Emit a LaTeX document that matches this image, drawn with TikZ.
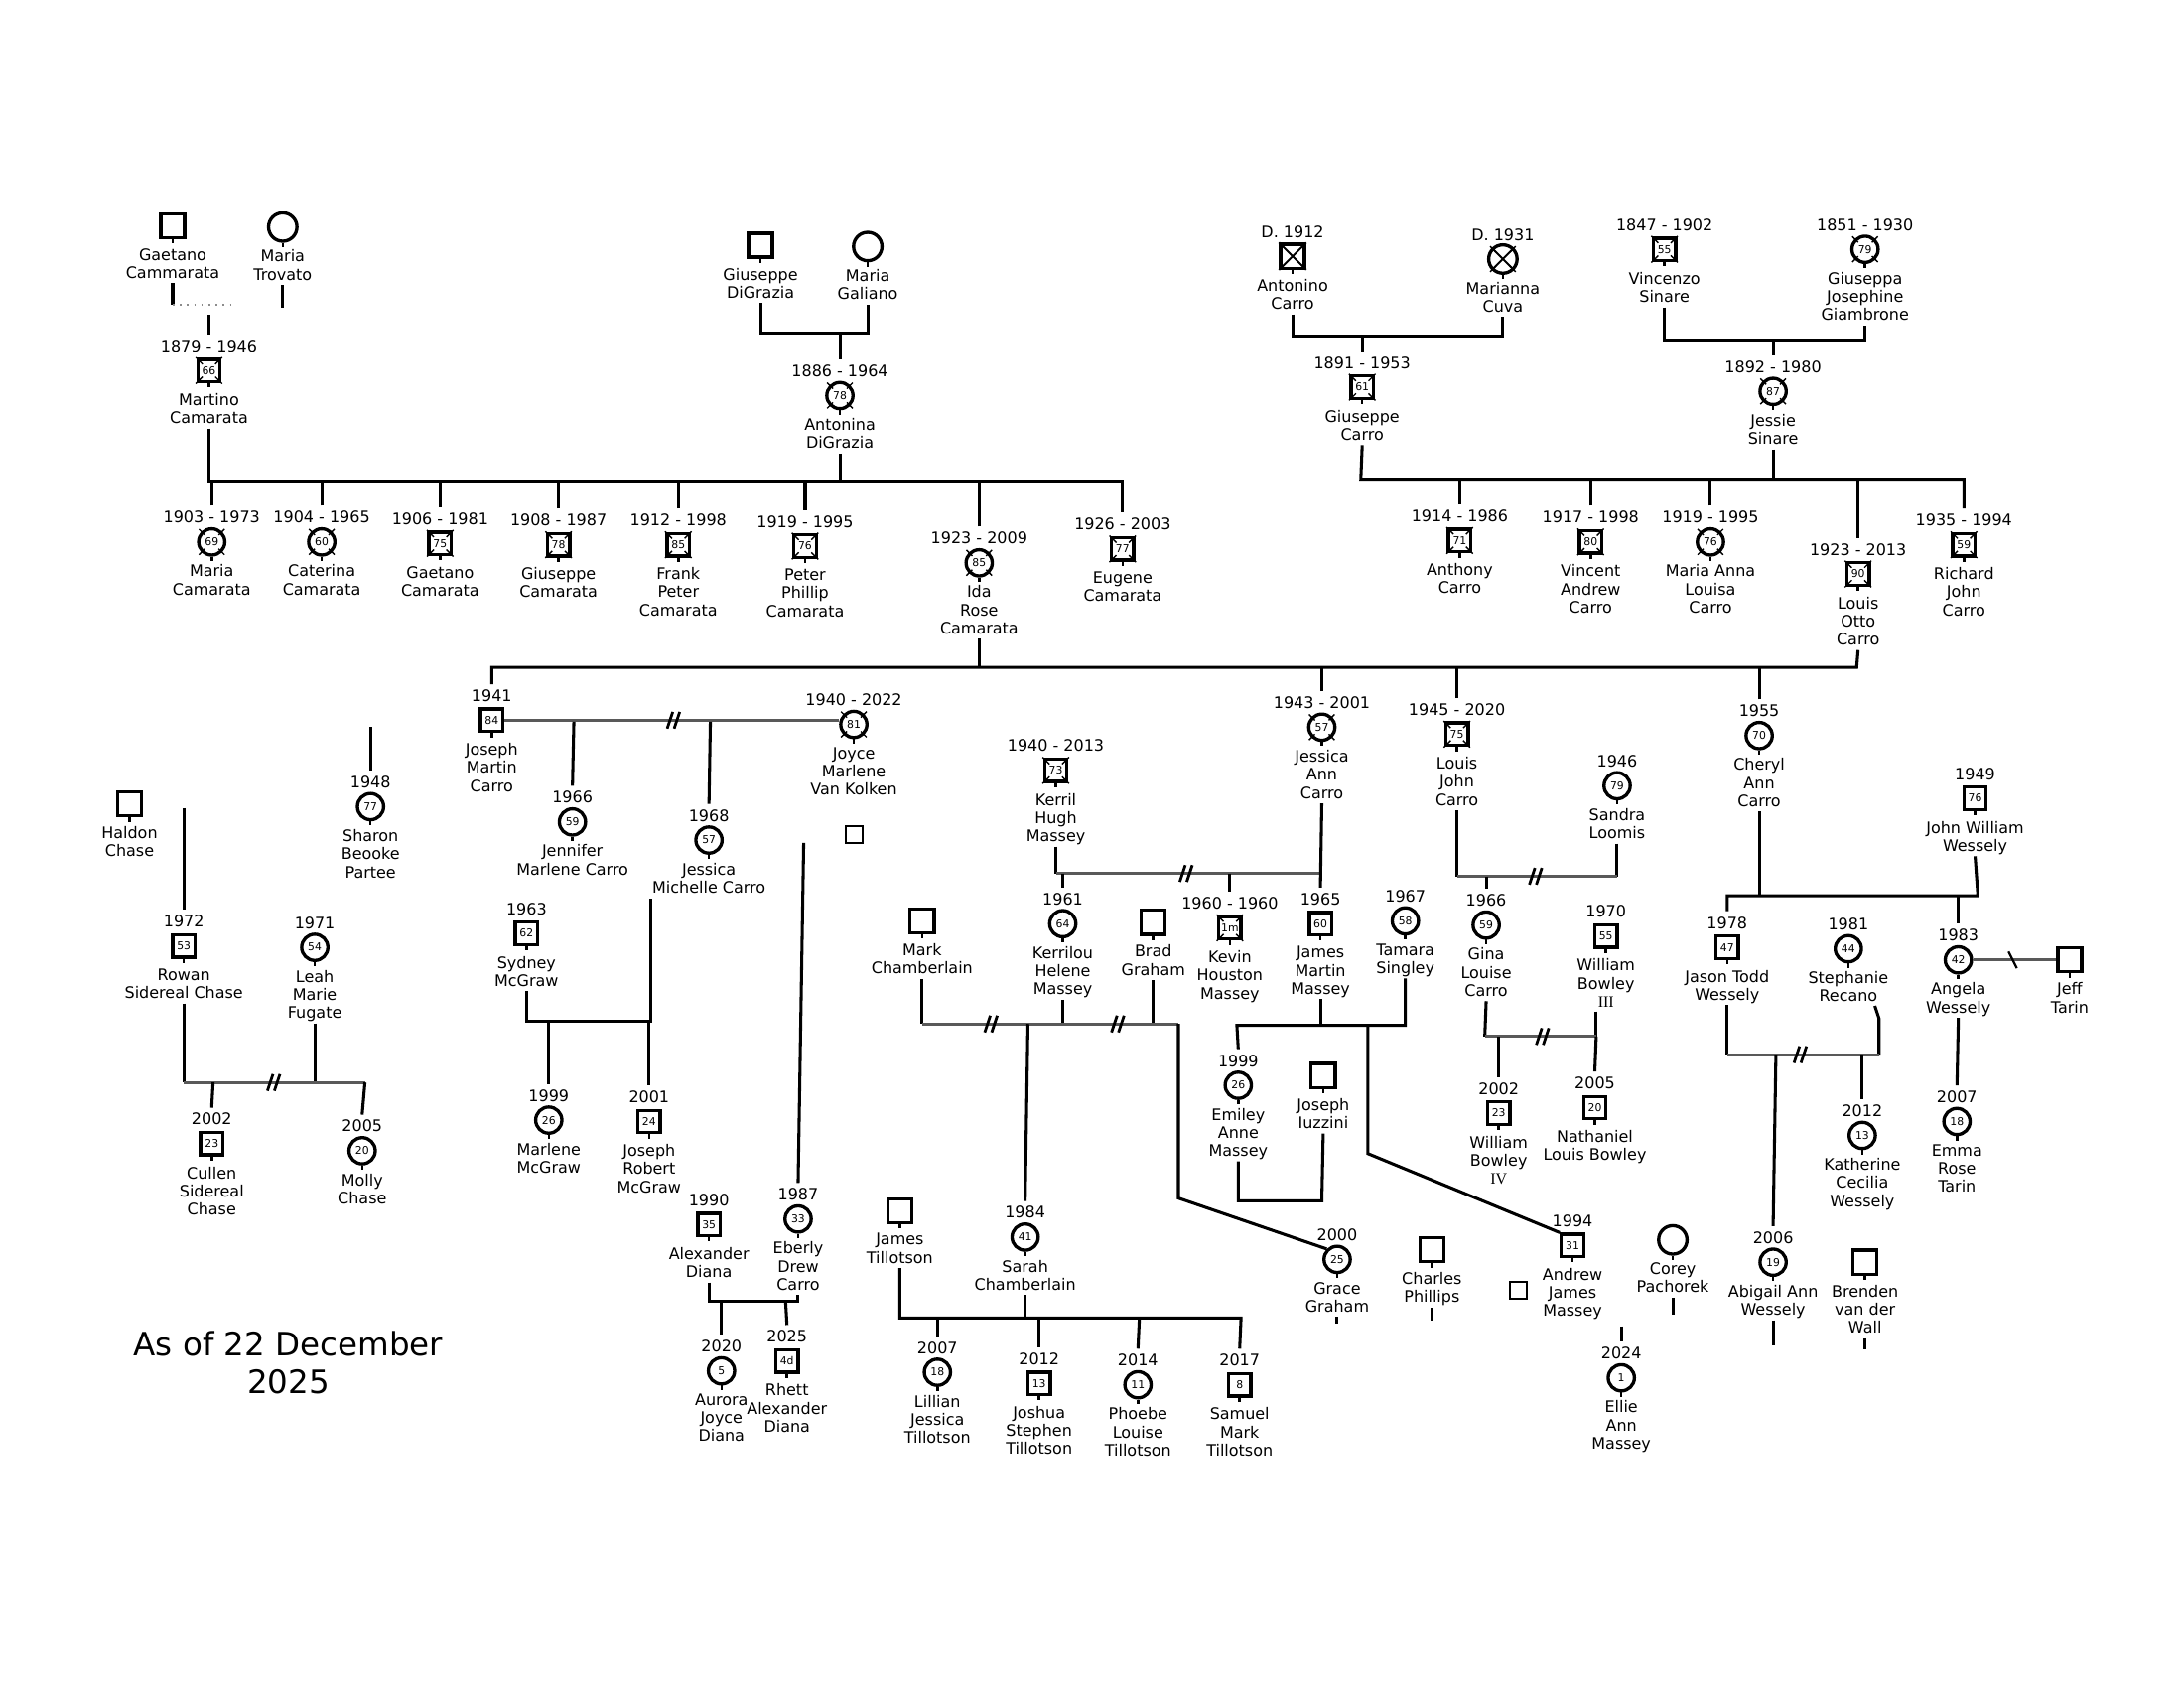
\documentclass[tikz,border=0pt]{standalone}
\usepackage{fontspec}
\newfontfamily\vf{DejaVu Sans}
\newfontfamily\serf{Liberation Serif}
\newcommand\nmf{\vf\fontsize{5.75bp}{6.57bp}\selectfont}
\newcommand\agf{\vf\fontsize{3.9bp}{4.2bp}\selectfont}
\newcommand\bigf{\vf\fontsize{11.7bp}{13.7bp}\selectfont}
\tikzset{
  sq/.style={draw,line width=1.2bp,rectangle,minimum size=8.1bp,inner sep=0,font=\agf},
  sqb/.style={sq,minimum size=8.7bp},
  ci/.style={draw,line width=1.2bp,circle,minimum size=9.5bp,inner sep=0,font=\agf},
  cib/.style={ci,minimum size=10.3bp},
  sqs/.style={draw,line width=0.7bp,rectangle,minimum size=6.1bp,inner sep=0},
  yr/.style={anchor=base,inner sep=0,outer ysep=2bp,font=\nmf},
  nm/.style={anchor=north,align=center,inner sep=0,font=\nmf,
    execute at begin node={\rule{0pt}{4.55bp}},
    execute at end node={\rule[-1.6bp]{0pt}{1.6bp}}},
  ln/.style={line width=1.1bp},
  dv/.style={line width=1bp,black!65},
  tk/.style={line width=0.5bp},
  stub/.style={line width=0.9bp},
}
\newcommand\pson[7]{%
  \node[#4] (#1) at (#2,#3) {#5};
  \node[yr] (#1Y) at (#2,#3-13.5) {#6};
  \node[nm] (#1L) at (#2,#3+16) {#7};
  \draw[stub] (#1.south) -- ++(0,3);
}
\newcommand\decsq[1]{\foreach \sx/\sy in {1/1,1/-1,-1/1,-1/-1}{\draw[tk] ([shift={(\sx*4.5,\sy*4.5)}]#1.center) -- ([shift={(\sx*9.5,\sy*9.5)}]#1.center);}}
\newcommand\decci[1]{\foreach \a in {45,135,225,315}{\draw[tk] ([shift={(\a:7)}]#1.center) -- ([shift={(\a:13)}]#1.center);}}
\newcommand\dvm[2]{\draw[line width=1bp] (#1-5,#2+6) -- (#1-1,#2-6) (#1,#2+6) -- (#1+4,#2-6);}
\begin{document}
\begin{tikzpicture}[x=0.505bp,y=-0.505bp]
\useasboundingbox (0,0) rectangle (1568,1212);
\fill[white] (0,0) rectangle (1568,1212);

% ---------- generation 0
\pson{gaetano}{124}{162}{sqb}{}{}{Gaetano\\Cammarata}
\pson{mtrovato}{203}{163}{cib}{}{}{Maria\\Trovato}
\pson{martino}{150}{266}{sq}{66}{1879 - 1946}{Martino\\Camarata}\decsq{martino}
\pson{gdigrazia}{546}{176}{sqb}{}{}{Giuseppe\\DiGrazia}
\pson{mgaliano}{623}{177}{cib}{}{}{Maria\\Galiano}
\pson{antonina}{603}{284}{ci}{78}{1886 - 1964}{Antonina\\DiGrazia}\decci{antonina}
\pson{antonino}{928}{184}{sqb}{}{D. 1912}{Antonino\\Carro}
\draw[line width=0.7bp] (antonino.north west) -- (antonino.south east) (antonino.north east) -- (antonino.south west);
\pson{mcuva}{1079}{186}{cib}{}{D. 1931}{Marianna\\Cuva}\decci{mcuva}
\draw[line width=0.7bp] (mcuva.45) -- (mcuva.225) (mcuva.135) -- (mcuva.315);
\pson{gcarro}{978}{278}{sq}{61}{1891 - 1953}{Giuseppe\\Carro}\decsq{gcarro}
\pson{vincenzo}{1195}{179}{sq}{55}{1847 - 1902}{Vincenzo\\Sinare}\decsq{vincenzo}
\pson{giuseppa}{1339}{179}{ci}{79}{1851 - 1930}{Giuseppa\\Josephine\\Giambrone}\decci{giuseppa}
\pson{jessie}{1273}{281}{ci}{87}{1892 - 1980}{Jessie\\Sinare}\decci{jessie}

% ---------- generation 1
\pson{mariaC}{152}{389}{ci}{69}{1903 - 1973}{Maria\\Camarata}\decci{mariaC}
\pson{caterina}{231}{389}{ci}{60}{1904 - 1965}{Caterina\\Camarata}\decci{caterina}
\pson{gaetanoC}{316}{390}{sq}{75}{1906 - 1981}{Gaetano\\Camarata}\decsq{gaetanoC}
\pson{giuseppeC}{401}{391}{sq}{78}{1908 - 1987}{Giuseppe\\Camarata}\decsq{giuseppeC}
\pson{frank}{487}{391}{sq}{85}{1912 - 1998}{Frank\\Peter\\Camarata}\decsq{frank}
\pson{peter}{578}{392}{sq}{76}{1919 - 1995}{Peter\\Phillip\\Camarata}\decsq{peter}
\pson{ida}{703}{404}{ci}{85}{1923 - 2009}{Ida\\Rose\\Camarata}\decci{ida}
\pson{eugene}{806}{394}{sq}{77}{1926 - 2003}{Eugene\\Camarata}\decsq{eugene}
\pson{anthony}{1048}{388}{sq}{71}{1914 - 1986}{Anthony\\Carro}\decsq{anthony}
\pson{vincent}{1142}{389}{sq}{80}{1917 - 1998}{Vincent\\Andrew\\Carro}\decsq{vincent}
\pson{mariaA}{1228}{389}{ci}{76}{1919 - 1995}{Maria Anna\\Louisa\\Carro}\decci{mariaA}
\pson{louisO}{1334}{412}{sq}{90}{1923 - 2013}{Louis\\Otto\\Carro}\decsq{louisO}
\pson{richard}{1410}{391}{sq}{59}{1935 - 1994}{Richard\\John\\Carro}\decsq{richard}

% ---------- generation 2
\pson{joseph}{353}{517}{sq}{84}{1941}{Joseph\\Martin\\Carro}
\pson{joyce}{613}{520}{ci}{81}{1940 - 2022}{Joyce\\Marlene\\Van Kolken}\decci{joyce}
\pson{jessicaA}{949}{522}{ci}{57}{1943 - 2001}{Jessica\\Ann\\Carro}\decci{jessicaA}
\pson{louisJ}{1046}{527}{sq}{75}{1945 - 2020}{Louis\\John\\Carro}\decsq{louisJ}
\pson{cheryl}{1263}{528}{ci}{70}{1955}{Cheryl\\Ann\\Carro}
\pson{kerril}{758}{553}{sq}{73}{1940 - 2013}{Kerril\\Hugh\\Massey}\decsq{kerril}
\pson{sandra}{1161}{564}{ci}{79}{1946}{Sandra\\Loomis}
\pson{johnW}{1418}{573}{sq}{76}{1949}{John William\\Wessely}
\pson{jennifer}{411}{590}{ci}{59}{1966}{Jennifer\\Marlene Carro}
\pson{jessicaM}{509}{603}{ci}{57}{1968}{Jessica\\Michelle Carro}
\pson{sharon}{266}{579}{ci}{77}{1948}{Sharon\\Beooke\\Partee}
\pson{haldon}{93}{577}{sqb}{}{}{Haldon\\Chase}
\pson{sydney}{378}{670}{sq}{62}{1963}{Sydney\\McGraw}
\pson{rowan}{132}{679}{sq}{53}{1972}{Rowan\\Sidereal Chase}
\pson{leah}{226}{680}{ci}{54}{1971}{Leah\\Marie\\Fugate}
\pson{mark}{662}{661}{sqb}{}{}{Mark\\Chamberlain}
\pson{kerrilou}{763}{663}{ci}{64}{1961}{Kerrilou\\Helene\\Massey}
\pson{brad}{828}{662}{sqb}{}{}{Brad\\Graham}
\pson{kevin}{883}{666}{sq}{1m}{1960 - 1960}{Kevin\\Houston\\Massey}\decsq{kevin}
\pson{jamesM}{948}{663}{sq}{60}{1965}{James\\Martin\\Massey}
\pson{tamara}{1009}{661}{ci}{58}{1967}{Tamara\\Singley}
\pson{gina}{1067}{664}{ci}{59}{1966}{Gina\\Louise\\Carro}
\pson{williamB}{1153}{672}{sq}{55}{1970}{William\\Bowley\\{\serf III}}
\pson{jason}{1240}{680}{sq}{47}{1978}{Jason Todd\\Wessely}
\pson{stephanie}{1327}{681}{ci}{44}{1981}{Stephanie\\Recano}
\pson{angela}{1406}{689}{ci}{42}{1983}{Angela\\Wessely}
\pson{jeff}{1486}{689}{sqb}{}{}{Jeff\\Tarin}
\node[sqs] (sqa) at (613,599) {};

% ---------- generation 3+
\pson{cullen}{152}{821}{sq}{23}{2002}{Cullen\\Sidereal\\Chase}
\pson{molly}{260}{826}{ci}{20}{2005}{Molly\\Chase}
\pson{marlene}{394}{804}{ci}{26}{1999}{Marlene\\McGraw}
\pson{josephR}{466}{805}{sq}{24}{2001}{Joseph\\Robert\\McGraw}
\pson{alex}{509}{879}{sq}{35}{1990}{Alexander\\Diana}
\pson{eberly}{573}{875}{ci}{33}{1987}{Eberly\\Drew\\Carro}
\pson{aurora}{518}{984}{ci}{5}{2020}{Aurora\\Joyce\\Diana}
\pson{rhett}{565}{977}{sq}{4d}{2025}{Rhett\\Alexander\\Diana}
\pson{emiley}{889}{779}{ci}{26}{1999}{Emiley\\Anne\\Massey}
\pson{josephI}{950}{772}{sqb}{}{}{Joseph\\Iuzzini}
\pson{sarah}{736}{888}{ci}{41}{1984}{Sarah\\Chamberlain}
\pson{grace}{960}{904}{ci}{25}{2000}{Grace\\Graham}
\pson{jamesT}{646}{869}{sqb}{}{}{James\\Tillotson}
\pson{lillian}{673}{985}{ci}{18}{2007}{Lillian\\Jessica\\Tillotson}
\pson{joshua}{746}{993}{sq}{13}{2012}{Joshua\\Stephen\\Tillotson}
\pson{phoebe}{817}{994}{ci}{11}{2014}{Phoebe\\Louise\\Tillotson}
\pson{samuel}{890}{994}{sq}{8}{2017}{Samuel\\Mark\\Tillotson}
\pson{charles}{1028}{897}{sqb}{}{}{Charles\\Phillips}
\node[sqs] (sqb2) at (1090,926) {};
\pson{andrew}{1129}{894}{sq}{31}{1994}{Andrew\\James\\Massey}
\pson{ellie}{1164}{989}{ci}{1}{2024}{Ellie\\Ann\\Massey}
\pson{corey}{1201}{890}{cib}{}{}{Corey\\Pachorek}
\pson{williamIV}{1076}{799}{sq}{23}{2002}{William\\Bowley\\{\serf IV}}
\pson{nathaniel}{1145}{795}{sq}{20}{2005}{Nathaniel\\Louis Bowley}
\pson{katherine}{1337}{815}{ci}{13}{2012}{Katherine\\Cecilia\\Wessely}
\pson{abigail}{1273}{906}{ci}{19}{2006}{Abigail Ann\\Wessely}
\pson{brenden}{1339}{906}{sqb}{}{}{Brenden\\van der\\Wall}
\pson{emma}{1405}{805}{ci}{18}{2007}{Emma\\Rose\\Tarin}

\node[font=\bigf,align=center] (asof) at (207,978) {As of 22 December\\2025};

% ---------- connectors
% Cammarata / Trovato
\draw[ln] (gaetanoL.south) -- (124,219);
\draw[ln] (mtrovatoL.south) -- (203,221);
\draw[black!45,dotted,line width=0.6bp] (124,219) -- (166,219);
\draw[ln] (150,226) -- (martinoY.north);
% DiGrazia
\draw[ln] (gdigraziaL.south) -- (546,239) -- (623,239) -- (mgalianoL.south);
\draw[ln] (603,239) -- (antoninaY.north);
% Camarata sibship
\coordinate (b1) at (0,345);
\draw[ln] (martinoL.south) -- (150,345) -- (806,345) -- (eugeneY.north);
\draw[ln] (antoninaL.south) -- (603,345);
\foreach \c in {mariaC,caterina,gaetanoC,giuseppeC,frank,peter,ida}
  \draw[ln] (\c Y.north) -- (\c Y.north |- b1);
% Carro parents
\draw[ln] (antoninoL.south) -- (928,241) -- (1079,241) -- (mcuvaL.south);
\draw[ln] (978,241) -- (gcarroY.north);
\draw[ln] (vincenzoL.south) -- (1195,244) -- (1339,244) -- (giuseppaL.south);
\draw[ln] (1273,244) -- (jessieY.north);
\coordinate (b2) at (0,344);
\draw[ln] (gcarroL.south) -- (977,344) -- (1410,344) -- (richardY.north);
\draw[ln] (jessieL.south) -- (1273,344);
\foreach \c in {anthony,vincent,mariaA,louisO}
  \draw[ln] (\c Y.north) -- (\c Y.north |- b2);
% Ida + Louis Otto
\coordinate (b3) at (0,479);
\draw[ln] (idaL.south) -- (703,479);
\draw[ln] (louisOL.south) -- (1333,479) -- (353,479) -- (josephY.north);
\foreach \c in {jessicaA,louisJ,cheryl}
  \draw[ln] (\c Y.north) -- (\c Y.north |- b3);
% Joseph + Joyce
\draw[dv] (joseph.east) -- (joseph.east -| joyce.west);
\dvm{484}{517}
\draw[ln] (412,518) -- (jenniferY.north);
\draw[ln] (510,518) -- (jessicaMY.north);
\draw[ln] (577,605) -- (eberlyY.north);
% Sydney + Jessica Michelle
\draw[ln] (sydneyL.south) -- (378,733) -- (467,733) -- (467,645);
\draw[ln] (394,733) -- (marleneY.north);
\draw[ln] (466,733) -- (josephRY.north);
% Chase
\draw[ln] (132,580) -- (rowanY.north);
\draw[ln] (266,522) -- (sharonY.north);
\draw[ln] (rowanL.south) -- (132,777);
\draw[ln] (leahL.south) -- (226,777);
\draw[dv] (132,777) -- (262,777);
\dvm{197}{777}
\draw[ln] (262,777) -- (mollyY.north);
\draw[ln] (153,777) -- (cullenY.north);
% Alexander + Eberly
\draw[ln] (alexL.south) -- (509,934) -- (573,934) -- (eberlyL.south);
\draw[ln] (518,934) -- (auroraY.north);
\draw[ln] (564,934) -- (rhettY.north);
% Kerril + Jessica Ann
\draw[ln] (kerrilL.south) -- (758,627);
\draw[dv] (758,627) -- (948,627);
\dvm{852}{627}
\draw[ln] (jessicaAL.south) -- (jamesMY.north);
\draw[ln] (763,627) -- (kerrilouY.north);
\draw[ln] (883,627) -- (kevinY.north);
% Mark / Kerrilou / Brad
\draw[ln] (markL.south) -- (662,735);
\draw[ln] (kerrilouL.south) -- (763,735);
\draw[ln] (bradL.south) -- (828,735);
\draw[dv] (662,735) -- (846,735);
\dvm{712}{735}
\dvm{803}{735}
\draw[ln] (738,735) -- (sarahY.north);
\draw[ln] (846,735) -- (846,860) -- (grace.135);
% James Martin + Tamara
\draw[ln] (jamesML.south) -- (948,736);
\draw[ln] (tamaraL.south) -- (1009,736) -- (888,736) -- (emileyY.north);
\draw[ln] (982,736) -- (982,828) -- (andrew.north west);
% Emiley + Joseph Iuzzini
\draw[ln] (emileyL.south) -- (889,862) -- (949,862) -- (josephIL.south);
% Tillotson
\draw[ln] (jamesTL.south) -- (646,946) -- (891,946) -- (samuelY.north);
\draw[ln] (sarahL.south) -- (736,946);
\draw[ln] (673,946) -- (lillianY.north);
\draw[ln] (746,946) -- (joshuaY.north);
\draw[ln] (818,946) -- (phoebeY.north);
% stubs
\draw[ln] (graceL.south) -- ++(0,5);
\draw[ln] (charlesL.south) -- ++(0,9);
\draw[ln] (coreyL.south) -- ++(0,12);
\draw[ln] (1164,952) -- (ellieY.north);
\draw[ln] (abigailL.south) -- ++(0,18);
\draw[ln] (brendenL.south) -- ++(0,8);
% Louis John + Sandra
\draw[ln] (louisJL.south) -- (1046,629);
\draw[ln] (sandraL.south) -- (1161,629);
\draw[dv] (1046,629) -- (1161,629);
\dvm{1103}{629}
\draw[ln] (1067,629) -- (ginaY.north);
% Gina + William III
\draw[ln] (ginaL.south) -- (1066,744);
\draw[ln] (1146,726) -- (1146,744);
\draw[dv] (1066,744) -- (1146,744);
\dvm{1108}{744}
\draw[ln] (1076,744) -- (williamIVY.north);
\draw[ln] (1146,744) -- (nathanielY.north);
% Cheryl + John William
\draw[ln] (cherylL.south) -- (1263,643);
\draw[ln] (jasonY.north) -- (1240,643) -- (1420,643) -- (johnWL.south);
\draw[ln] (1406,643) -- (angelaY.north);
% Jason + Stephanie
\draw[ln] (jasonL.south) -- (1240,757);
\draw[ln] (1346,722) -- (1349,731) -- (1349,757);
\draw[dv] (1240,757) -- (1349,757);
\dvm{1293}{757}
\draw[ln] (1275,757) -- (abigailY.north);
\draw[ln] (1337,757) -- (katherineY.north);
% Angela + Jeff
\draw[dv] (angela.east) -- (jeff.west);
\draw[line width=0.8bp] (1442,683) -- (1448,695);
\draw[ln] (angelaL.south) -- (emmaY.north);
\end{tikzpicture}
\end{document}
